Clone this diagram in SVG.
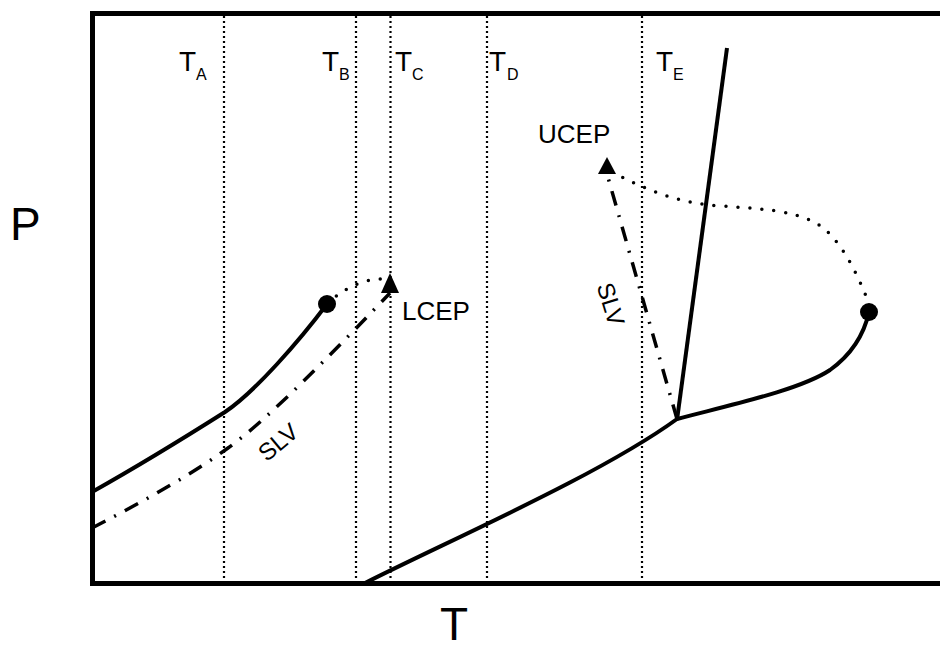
<svg xmlns="http://www.w3.org/2000/svg" width="940" height="661" viewBox="0 0 940 661">
<style>
.frame{fill:none;stroke:#000;stroke-width:5}
.vdot{fill:none;stroke:#000;stroke-width:2.2;stroke-dasharray:2 3}
.solid{fill:none;stroke:#000;stroke-width:4}
.dotc{fill:none;stroke:#000;stroke-width:3.5;stroke-dasharray:0 12;stroke-linecap:round}
.dashdot{fill:none;stroke:#000;stroke-width:3.5;stroke-dasharray:15 10 2 10}
text{font-family:"Liberation Sans",Arial,sans-serif;fill:#000}
.big{font-size:46px}
.tl{font-size:28px}
.sub{font-size:16px}
.lab{font-size:26px}
.slv{font-size:24px}
</style>
<rect width="940" height="661" fill="#fff"/>
<g id="frame"><path class="frame" d="M945,13.5 H92.5 V583.5 H945"/></g>
<g id="isotherms">
<line class="vdot" x1="224" y1="16" x2="224" y2="581"/>
<line class="vdot" x1="356" y1="16" x2="356" y2="581"/>
<line class="vdot" x1="390.5" y1="16" x2="390.5" y2="581"/>
<line class="vdot" x1="487" y1="16" x2="487" y2="581"/>
<line class="vdot" x1="642" y1="16" x2="642" y2="581"/>
</g>
<g id="labels">
<text class="big" x="10" y="240">P</text>
<text class="big" x="440" y="640">T</text>
<text class="tl" x="179" y="71">T</text><text class="sub" x="196" y="80">A</text>
<text class="tl" x="322" y="71">T</text><text class="sub" x="339" y="80">B</text>
<text class="tl" x="395" y="71">T</text><text class="sub" x="412" y="80">C</text>
<text class="tl" x="489" y="71">T</text><text class="sub" x="507" y="80">D</text>
<text class="tl" x="656" y="71">T</text><text class="sub" x="673" y="80">E</text>
<text class="lab" x="402" y="320">LCEP</text>
<text class="lab" x="538" y="143">UCEP</text>
<text class="slv" text-anchor="middle" x="0" y="8.5" transform="translate(278,442) rotate(-40)">SLV</text>
<text class="slv" text-anchor="middle" x="0" y="8.5" transform="translate(611,304) rotate(73)">SLV</text>
</g>
<g id="connectors">
<path id="left-vle" class="solid" d="M92,492 C140,465 195,431 225,412 C255,392 300,340 327,304"/>
<path id="left-dotted" class="dotc" d="M327,304 Q355,278 385,279"/>
<path id="left-slv" class="dashdot" d="M92,528 C150,498 195,472 228,448 C270,418 340,345 390,293"/>
<polygon points="390,273 381,293 399,293" fill="#000"/>
<circle cx="327" cy="304" r="9" fill="#000"/>
<path id="lower-vle" class="solid" d="M365,583 C450,540 600,475 677,419 C730,405 800,390 830,370 C855,352 865,330 869,312"/>
<line id="steep" class="solid" x1="677" y1="420" x2="727" y2="48"/>
<path id="upper-dotted" class="dotc" d="M612,172 C650,192 680,203 720,206 C790,210 815,215 835,240 C850,258 862,285 869,304"/>
<line id="upper-slv" class="dashdot" x1="677" y1="419" x2="607" y2="174"/>
<polygon points="607,157 598,174 616,174" fill="#000"/>
<circle cx="869" cy="312" r="9" fill="#000"/>
</g>
</svg>
